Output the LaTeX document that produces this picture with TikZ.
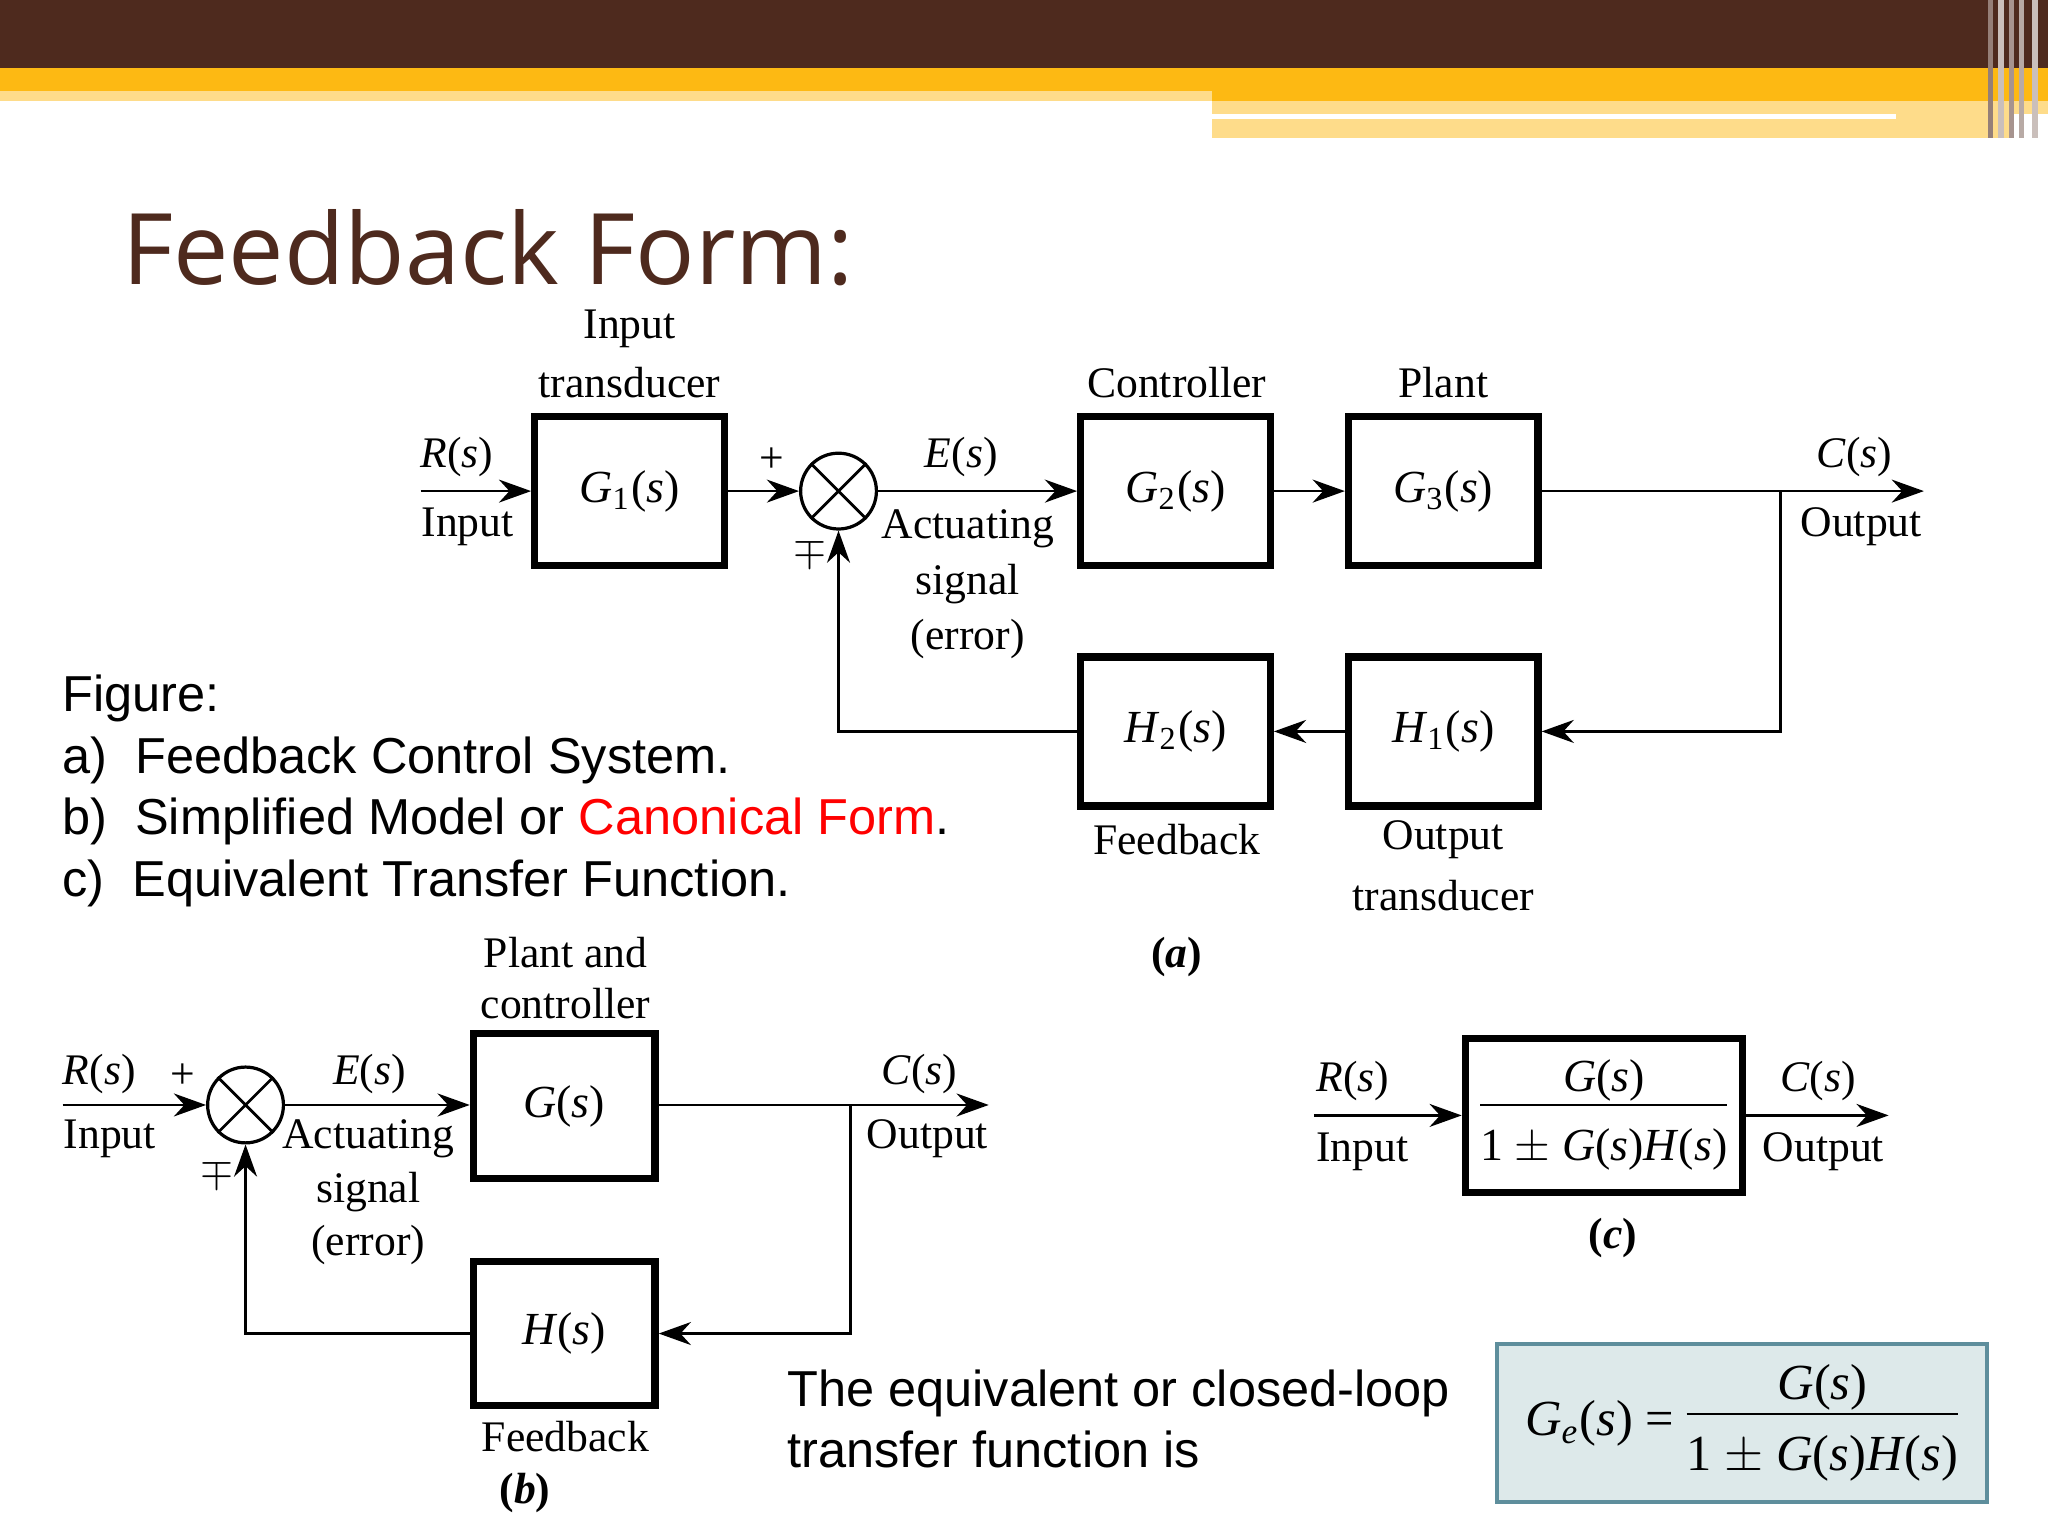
\documentclass[tikz,border=0pt]{standalone}
\usepackage{fontspec}
\newfontfamily\sansf{Liberation Sans}
\newfontfamily\titlef{Open Sans}
\newfontfamily\serf{Liberation Serif}
\usetikzlibrary{arrows.meta}
\newcommand\vi[1]{\textit{#1}}
\newcommand\frc[2]{\begin{tabular}{@{}c@{}}#1\\[-1pt]\hline\rule{0pt}{12pt}#2\end{tabular}}
\definecolor{brownbar}{HTML}{4E2A1E}
\definecolor{ambar}{HTML}{FDB913}
\definecolor{paleam}{HTML}{FEDC8A}
\definecolor{boxfill}{HTML}{DDE9EA}
\definecolor{boxline}{HTML}{5E8E9C}
\begin{document}
\begin{tikzpicture}[x=0.01cm,y=-0.01cm,
  blk/.style={draw,line width=1.6pt,minimum width=1.45cm,minimum height=1.14cm,inner sep=0pt,font=\serf\fontsize{10}{12}\selectfont},
  sum/.style={draw,circle,minimum size=0.58cm,inner sep=0pt,line width=0.7pt},
  lab/.style={font=\serf\fontsize{9.5}{11}\selectfont,inner sep=0pt},
  ln/.style={line width=0.6pt},
  ar/.style={ln,-{Stealth[length=7pt,width=5pt]}}]
\useasboundingbox (0,0) rectangle (1568,1176);
% banner
\fill[brownbar] (0,0) rectangle (1568,52);
\fill[ambar] (0,52) rectangle (1568,77);
\fill[paleam] (0,70) rectangle (928,77);
\fill[paleam] (928,77) rectangle (1568,87);
\fill[paleam] (928,91) rectangle (1452,106);
\fill[paleam] (1452,87) rectangle (1540,106);
\foreach \x/\c in {1522/brownbar!60,1530/white!70!brownbar,1538/brownbar!50,1546/white!60!brownbar,1556/white!70!brownbar}
  \fill[\c] (\x,0) rectangle (\x+4,106);
% title
\node[anchor=west,inner sep=0pt,text=brownbar,font=\titlef\fontsize{21.5}{26}\selectfont] (title) at (93,190) {Feedback Form:};
% figure text
\node[anchor=north west,inner sep=0pt,align=left,font=\sansf\fontsize{11}{13.4}\selectfont] (figtxt) at (47,516)
 {Figure:\\a)\ \ Feedback Control System.\\b)\ \ Simplified Model or \textcolor{red}{Canonical Form}.\\c)\ \ Equivalent Transfer Function.};
% ---------- (a)
\node[blk] (G1) at (482,376) {\vi{G}\textsubscript{1}(\vi{s})};
\node[sum] (S1) at (642,376) {};
\draw[ln] (S1.north west)--(S1.south east) (S1.north east)--(S1.south west);
\node[blk] (G2) at (900,376) {\vi{G}\textsubscript{2}(\vi{s})};
\node[blk] (G3) at (1105,376) {\vi{G}\textsubscript{3}(\vi{s})};
\node[blk] (H1) at (1105,560) {\vi{H}\textsubscript{1}(\vi{s})};
\node[blk] (H2) at (900,560) {\vi{H}\textsubscript{2}(\vi{s})};
\coordinate (Ra) at (322,376);
\coordinate (Ca) at (1473,376);
\coordinate (Ba) at (1363,376);
\draw[ar] (Ra)--(G1);
\draw[ar] (G1)--(S1);
\draw[ar] (S1)--(G2);
\draw[ar] (G2)--(G3);
\draw[ar] (G3)--(Ca);
\draw[ar] (Ba)|-(H1);
\draw[ar] (H1)--(H2);
\draw[ar] (H2)-|(S1);
\node[lab] at (350,350) {\vi{R}(\vi{s})};
\node[lab] at (358,403) {Input};
\node[lab] at (482,252) {Input};
\node[lab] at (482,293) {transducer};
\node[lab] at (591,352) {+};
\node[lab] at (620,423) {$\mp$};
\node[lab] at (736,350) {\vi{E}(\vi{s})};
\node[lab] at (741,405) {Actuating};
\node[lab] at (741,447) {signal};
\node[lab] at (741,489) {(error)};
\node[lab] at (901,293) {Controller};
\node[lab] at (1105,293) {Plant};
\node[lab] at (1420,350) {\vi{C}(\vi{s})};
\node[lab] at (1425,403) {Output};
\node[lab] at (901,643) {Feedback};
\node[lab] at (1105,643) {Output};
\node[lab] at (1105,686) {transducer};
\node[lab] at (901,733) {\textbf{(\textit{a})}};
% ---------- (b)
\node[sum] (S2) at (188,846) {};
\draw[ln] (S2.north west)--(S2.south east) (S2.north east)--(S2.south west);
\node[blk,minimum width=1.39cm,minimum height=1.11cm] (G) at (432,847) {\vi{G}(\vi{s})};
\node[blk,minimum width=1.39cm,minimum height=1.10cm] (H) at (432,1021) {\vi{H}(\vi{s})};
\coordinate (Rb) at (48,846);
\coordinate (Cb) at (757,846);
\coordinate (Bb) at (651,846);
\draw[ar] (Rb)--(S2);
\draw[ar] (S2)--(G.west|-S2);
\draw[ar] (G.east|-S2)--(Cb);
\draw[ar] (Bb)|-(H);
\draw[ar] (H)-|(S2);
\node[lab] at (76,822) {\vi{R}(\vi{s})};
\node[lab] at (84,872) {Input};
\node[lab] at (140,824) {+};
\node[lab] at (166,898) {$\mp$};
\node[lab] at (283,822) {\vi{E}(\vi{s})};
\node[lab] at (282,872) {Actuating};
\node[lab] at (282,913) {signal};
\node[lab] at (282,953) {(error)};
\node[lab] at (433,729) {Plant and};
\node[lab] at (433,768) {controller};
\node[lab] at (704,822) {\vi{C}(\vi{s})};
\node[lab] at (710,872) {Output};
\node[lab] at (433,1100) {Feedback};
\node[lab] at (402,1143) {\textbf{(\textit{b})}};
% ---------- (c)
\node[blk,minimum width=2.12cm,minimum height=1.18cm] (GC) at (1228,854) {\frc{\vi{G}(\vi{s})}{1 $\pm$ \vi{G}(\vi{s})\vi{H}(\vi{s})}};
\coordinate (Rc) at (1006,854);
\coordinate (Cc) at (1446,854);
\draw[ar] (Rc)--(GC);
\draw[ar] (GC)--(Cc);
\node[lab] at (1036,828) {\vi{R}(\vi{s})};
\node[lab] at (1043,882) {Input};
\node[lab] at (1392,828) {\vi{C}(\vi{s})};
\node[lab] at (1396,882) {Output};
\node[lab] at (1235,948) {\textbf{(\textit{c})}};
% bottom
\node[anchor=north west,inner sep=0pt,align=left,font=\sansf\fontsize{11}{13.4}\selectfont] (eqtxt) at (602,1048)
 {The equivalent or closed-loop\\transfer function is};
\node[draw=boxline,fill=boxfill,line width=0.8pt,minimum width=3.75cm,minimum height=1.21cm,inner sep=0pt,font=\serf\fontsize{11}{13}\selectfont] (eqbox) at (1333.5,1089.5)
 {\vi{G}\textsubscript{\vi{e}}(\vi{s}) = \frc{\vi{G}(\vi{s})}{1 $\pm$ \vi{G}(\vi{s})\vi{H}(\vi{s})}};
\end{tikzpicture}
\end{document}
